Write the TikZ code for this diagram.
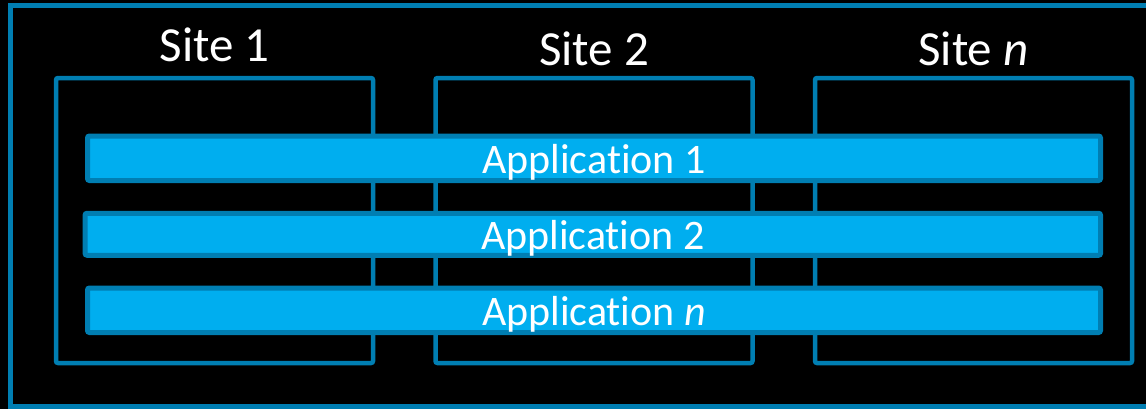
\documentclass[tikz,border=0pt]{standalone}
\usepackage{fontspec}
\setmainfont{Carlito}[Ligatures=CommonOff]
\usetikzlibrary{positioning}
\definecolor{lineblue}{RGB}{0,126,178}
\definecolor{appblue}{RGB}{0,174,239}

\begin{document}
\begin{tikzpicture}[x=0.5pt, y=-0.5pt, node distance=38pt]
	\tikzstyle{site} = [draw=lineblue, line width=2.25pt, rounded corners=1pt, minimum width=158.5pt, minimum height=142.5pt, inner sep=0pt]
	\tikzstyle{app} = [draw=lineblue, fill=appblue, line width=2.5pt, rounded corners=1pt, minimum width=506.5pt, minimum height=22.25pt, inner sep=0pt, text=white, font=\fontsize{21}{25}\selectfont, text height=15pt, text depth=0pt]
	\tikzstyle{sitetitle} = [text=white, inner sep=0pt, text depth=0pt, font=\fontsize{24.5}{29}\selectfont]

	\useasboundingbox (0,0) rectangle (1146,409);
	\clip (0,0) rectangle (1146,409);
	\fill[black] (0,0) rectangle (1146,409);
	% outer frame, open on the right
	\draw[lineblue, line width=2.25pt] (1200,5.7) -- (10.3,5.7) -- (10.3,406.5) -- (1200,406.5);

	\path
	node[site] (site1) at (214.5,220.5) {}
	node[site, right of=site1, xshift=151.75pt] (site2) {}
	node[site, right of=site2, xshift=151.75pt] (siten) {}

	node[sitetitle, above=7.1pt of site1] (title1) {Site 1}
	node[sitetitle, above=5.1pt of site2] (title2) {Site 2}
	node[sitetitle, above=5.1pt of siten] (titlen) {Site \textit{n}}

	node[app] (app1) at (594,158.25) {Application 1}
	node[app, below of=app1, xshift=-0.6pt, minimum width=507.75pt, minimum height=21pt] (app2) {Application 2}
	node[app, below of=app2, xshift=0.6pt] (appn) {Application \textit{n}}
	;
\end{tikzpicture}
\end{document}
